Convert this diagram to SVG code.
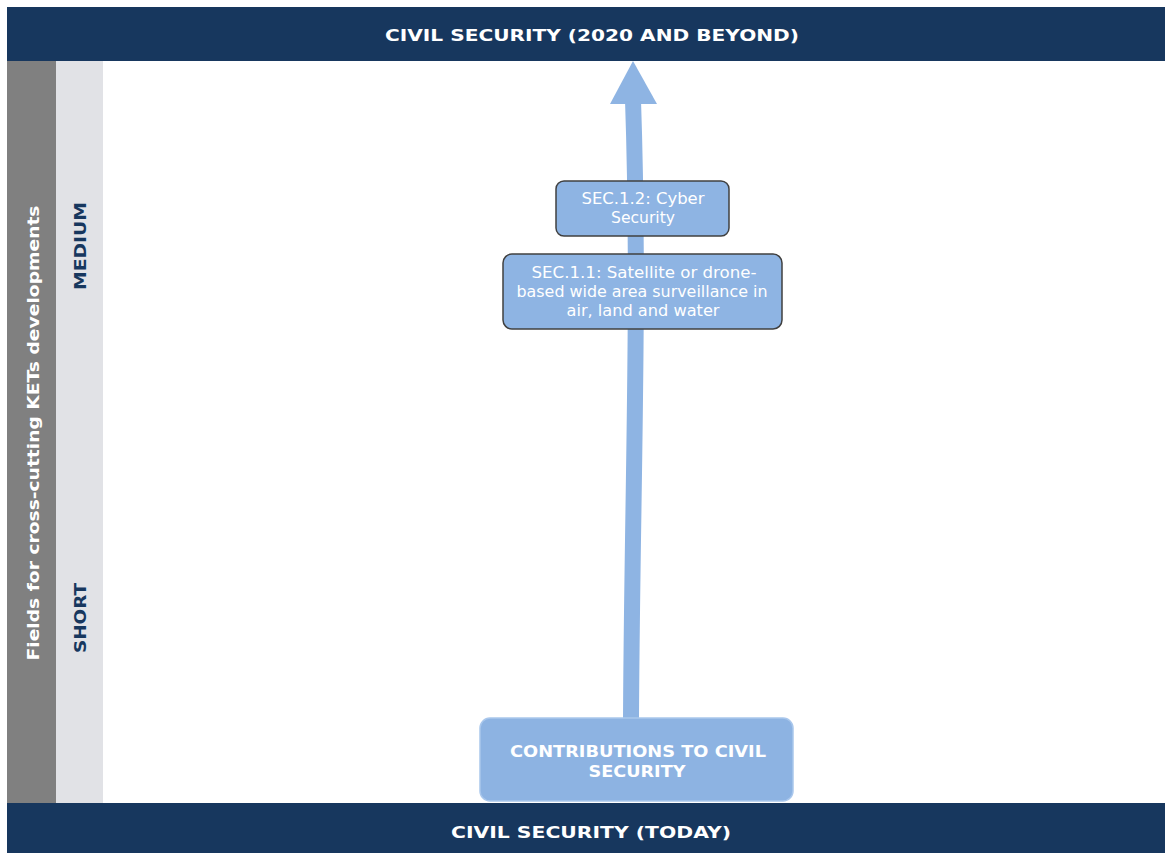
<svg xmlns="http://www.w3.org/2000/svg" width="1165" height="853" viewBox="0 0 1165 853">
<style>
.banner{fill:#17375e}
.bt{fill:#ffffff;font-family:"DejaVu Sans",Verdana,sans-serif;font-weight:bold;font-size:16px;text-anchor:middle}
.box{fill:#8eb4e3;stroke:#404040;stroke-width:1.5}
.bx{fill:#ffffff;font-family:"DejaVu Sans",Verdana,sans-serif;font-size:15px;text-anchor:middle}
.cb{fill:#ffffff;font-family:"DejaVu Sans",Verdana,sans-serif;font-weight:bold;font-size:16px;text-anchor:middle}
.lab{fill:#17375e;font-family:"DejaVu Sans",Verdana,sans-serif;font-weight:bold;font-size:16px;text-anchor:middle}
</style>
<rect width="1165" height="853" fill="#ffffff"/>
<g id="banner-top">
<rect class="banner" x="7" y="7" width="1158" height="54"/>
<text class="bt" x="592" y="41" textLength="414" lengthAdjust="spacingAndGlyphs">CIVIL SECURITY (2020 AND BEYOND)</text>
</g>
<g id="side-axis">
<rect x="7" y="61" width="49" height="742" fill="#808080"/>
<rect x="56" y="61" width="47" height="742" fill="#e1e2e6"/>
<text transform="translate(39,433) rotate(-90)" fill="#ffffff" font-family="DejaVu Sans,Verdana,sans-serif" font-weight="bold" font-size="16" text-anchor="middle" textLength="455" lengthAdjust="spacingAndGlyphs">Fields for cross-cutting KETs developments</text>
<text class="lab" transform="translate(86,246) rotate(-90)" textLength="88" lengthAdjust="spacingAndGlyphs">MEDIUM</text>
<text class="lab" transform="translate(86,618) rotate(-90)" textLength="70" lengthAdjust="spacingAndGlyphs">SHORT</text>
</g>
<g id="connectors">
<path d="M631,720 C632,500 640,300 633,100" fill="none" stroke="#8eb4e3" stroke-width="16"/>
<polygon points="633,61 657,104 610,104" fill="#8eb4e3"/>
</g>
<g id="node-sec112">
<rect class="box" x="556" y="181" width="173" height="55" rx="8"/>
<text class="bx" x="643" y="204" textLength="123" lengthAdjust="spacingAndGlyphs">SEC.1.2: Cyber</text>
<text class="bx" x="643" y="223" textLength="64" lengthAdjust="spacingAndGlyphs">Security</text>
</g>
<g id="node-sec111">
<rect class="box" x="503" y="254" width="279" height="75" rx="9"/>
<text class="bx" x="644" y="278" textLength="225" lengthAdjust="spacingAndGlyphs">SEC.1.1: Satellite  or drone-</text>
<text class="bx" x="642" y="297" textLength="251" lengthAdjust="spacingAndGlyphs">based wide area surveillance in</text>
<text class="bx" x="643" y="316" textLength="153" lengthAdjust="spacingAndGlyphs">air, land and water</text>
</g>
<g id="node-contrib">
<rect x="480" y="718" width="313" height="83" rx="10" fill="#8db3e2" stroke="#a9c7ec" stroke-width="1.5"/>
<text class="cb" x="638" y="757" textLength="256" lengthAdjust="spacingAndGlyphs">CONTRIBUTIONS TO CIVIL</text>
<text class="cb" x="637" y="777" textLength="97" lengthAdjust="spacingAndGlyphs">SECURITY</text>
</g>
<g id="banner-bottom">
<rect class="banner" x="7" y="803" width="1158" height="50"/>
<text class="bt" x="591" y="838" font-size="17" textLength="280" lengthAdjust="spacingAndGlyphs">CIVIL SECURITY (TODAY)</text>
</g>
</svg>
